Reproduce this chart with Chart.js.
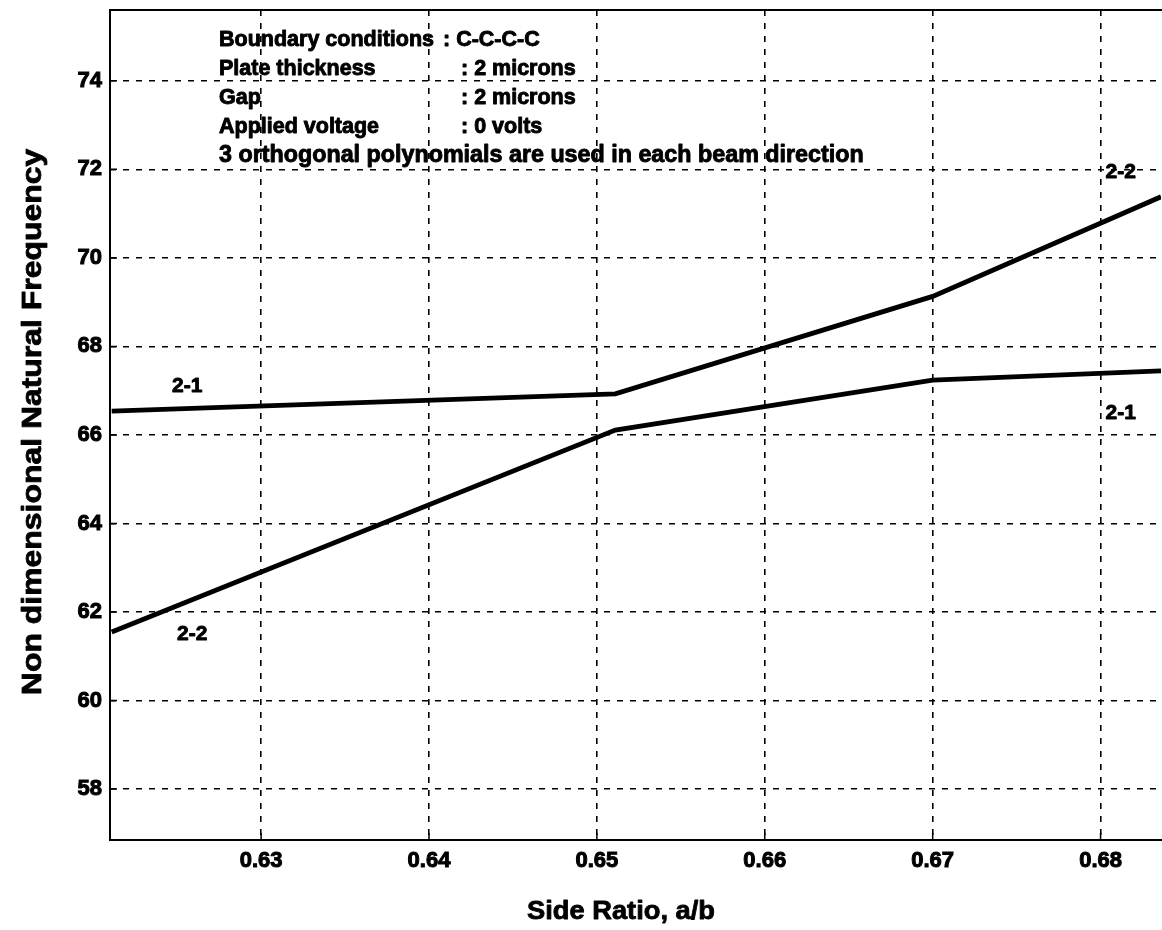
<!DOCTYPE html>
<html>
<head>
<meta charset="utf-8">
<script src="https://cdn.jsdelivr.net/npm/chart.js@4.4.1/dist/chart.umd.min.js"></script>
<style>
  html, body { margin: 0; padding: 0; background: #fff; }
  #wrap { width: 1162px; height: 930px; position: relative; }
</style>
</head>
<body>
<div id="wrap"><canvas id="c" width="1162" height="930"></canvas></div>
<script>
// Side ratio a/b at which the frequencies were computed
const sideRatio = [0.6211, 0.6511, 0.6700, 0.6836];
// Non-dimensional natural frequency of the two veering branches
const upperBranch = [66.54, 66.93, 69.13, 71.38];
const lowerBranch = [61.55, 66.11, 67.24, 67.45];

// Axis ticks and ranges
const xTicks = [0.63, 0.64, 0.65, 0.66, 0.67, 0.68];
const yTicks = [58, 60, 62, 64, 66, 68, 70, 72, 74];
const xRange = [0.6210, 0.6836];
const yRange = [56.85, 75.6];

// Mode labels placed beside the curves
const modeText = ['2-1', '2-2', '2-2', '2-1'];
const modeX = [0.6256, 0.6259, 0.6812, 0.6812];
const modeY = [67.10, 61.50, 71.94, 66.49];

// Parameter block
const paramNames = ['Boundary conditions', 'Plate thickness', 'Gap', 'Applied voltage'];
const paramValues = [': C-C-C-C', ': 2 microns', ': 2 microns', ': 0 volts'];
const paramNote = '3 orthogonal polynomials are used in each beam direction';

const xTitle = 'Side Ratio, a/b';
const yTitle = 'Non dimensional Natural Frequency';

const FONT = '"Liberation Sans", Arial, Helvetica, sans-serif';
const INK = '#000';

const toPoints = ys => sideRatio.map((x, i) => ({ x: x, y: ys[i] }));

// heavy text: fill plus a thin stroke of the same ink
function inkText(ctx, t, x, y, w) {
  ctx.lineWidth = w;
  ctx.strokeText(t, x, y);
  ctx.fillText(t, x, y);
}

const decorations = {
  id: 'decorations',
  afterDraw(chart) {
    const ctx = chart.ctx;
    const a = chart.chartArea;
    const xs = chart.scales.x, ys = chart.scales.y;
    ctx.save();

    // plot frame: left, top and bottom edges (right edge runs off the page)
    ctx.strokeStyle = INK;
    ctx.lineWidth = 2;
    ctx.setLineDash([]);
    ctx.beginPath();
    ctx.moveTo(a.right + 2, a.top);
    ctx.lineTo(a.left, a.top);
    ctx.lineTo(a.left, a.bottom);
    ctx.lineTo(a.right + 2, a.bottom);
    ctx.stroke();

    // short inward tick marks
    ctx.lineWidth = 1.5;
    ctx.beginPath();
    xTicks.forEach(v => {
      const px = xs.getPixelForValue(v);
      ctx.moveTo(px, a.bottom); ctx.lineTo(px, a.bottom - 7);
    });
    yTicks.forEach(v => {
      const py = ys.getPixelForValue(v);
      ctx.moveTo(a.left, py); ctx.lineTo(a.left + 7, py);
    });
    ctx.stroke();

    ctx.fillStyle = INK;
    ctx.strokeStyle = INK;
    ctx.lineJoin = 'round';
    ctx.textBaseline = 'middle';

    // parameter block
    ctx.textAlign = 'left';
    ctx.font = 'bold 21.5px ' + FONT;
    const rowY = [40, 69, 98, 127];
    paramNames.forEach((t, i) => {
      inkText(ctx, t, 219, rowY[i], 0.9);
      const vx = i === 0 ? 443 : 461;
      inkText(ctx, paramValues[i], vx, rowY[i], 0.9);
    });
    ctx.font = 'bold 23.3px ' + FONT;
    inkText(ctx, paramNote, 219, 156, 0.9);

    // mode labels
    ctx.font = 'bold 21px ' + FONT;
    ctx.textAlign = 'center';
    modeText.forEach((t, i) => {
      inkText(ctx, t, xs.getPixelForValue(modeX[i]), ys.getPixelForValue(modeY[i]), 0.9);
    });

    // axis titles
    ctx.save();
    ctx.translate(621, 912);
    ctx.scale(1.05, 1);
    ctx.font = 'bold 26px ' + FONT;
    inkText(ctx, xTitle, 0, 0, 0.8);
    ctx.restore();

    ctx.save();
    ctx.translate(33, 422);
    ctx.rotate(-Math.PI / 2);
    ctx.scale(1.14, 1);
    ctx.font = 'bold 28px ' + FONT;
    inkText(ctx, yTitle, 0, 0, 0.8);
    ctx.restore();

    ctx.restore();
  }
};

new Chart(document.getElementById('c'), {
  type: 'line',
  data: {
    datasets: [
      { label: 'Upper branch', data: toPoints(upperBranch), borderColor: INK, borderWidth: 4.8,
        pointRadius: 0, tension: 0, fill: false },
      { label: 'Lower branch', data: toPoints(lowerBranch), borderColor: INK, borderWidth: 4.8,
        pointRadius: 0, tension: 0, fill: false }
    ]
  },
  options: {
    responsive: false,
    animation: false,
    devicePixelRatio: 1,
    layout: { padding: { top: 10, right: 1, left: 0, bottom: 0 } },
    plugins: { legend: { display: false }, tooltip: { enabled: false } },
    scales: {
      x: {
        type: 'linear',
        min: xRange[0], max: xRange[1],
        afterBuildTicks: s => { s.ticks = xTicks.map(v => ({ value: v })); },
        afterFit: s => { s.height = 90; s.paddingLeft = 0; s.paddingRight = 0; },
        ticks: {
          autoSkip: false, maxRotation: 0, padding: 8, color: INK,
          textStrokeColor: INK, textStrokeWidth: 1,
          font: { family: FONT, weight: 'bold', size: 22 },
          callback: v => Number(v).toFixed(2)
        },
        grid: { color: INK, lineWidth: 1.6, drawTicks: false },
        border: { display: false, dash: [6, 7] }
      },
      y: {
        type: 'linear',
        min: yRange[0], max: yRange[1],
        afterBuildTicks: s => { s.ticks = yTicks.map(v => ({ value: v })); },
        afterFit: s => { s.width = 110; s.paddingTop = 0; s.paddingBottom = 0; },
        ticks: {
          autoSkip: false, padding: 8, color: INK,
          textStrokeColor: INK, textStrokeWidth: 1,
          font: { family: FONT, weight: 'bold', size: 22 },
          callback: v => String(v)
        },
        grid: { color: INK, lineWidth: 1.6, drawTicks: false },
        border: { display: false, dash: [6, 7] }
      }
    }
  },
  plugins: [decorations]
});
</script>
</body>
</html>
